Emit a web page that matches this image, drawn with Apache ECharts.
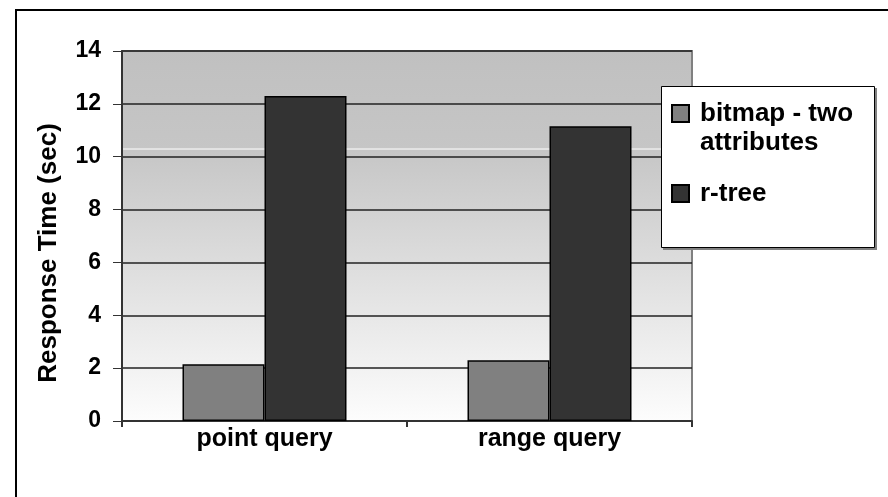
<!DOCTYPE html>
<html>
<head>
<meta charset="utf-8">
<script src="https://cdn.jsdelivr.net/npm/echarts@6/dist/echarts.min.js"></script>
<style>
  html, body { margin: 0; padding: 0; background: #fff; }
  #root { width: 888px; height: 497px; }
</style>
</head>
<body>
<div id="root"></div>
<script>
const categories = ['point query', 'range query']
const bitmapTwo = [2.15, 2.3]
const rtree = [12.3, 11.15]
const seriesNames = ['bitmap - two attributes', 'r-tree']

const font = 'Liberation Sans'

const chart = echarts.init(document.getElementById('root'))

const option = {
  animation: false,
  backgroundColor: '#fff',
  grid: {
    left: 122,
    top: 51,
    width: 570,
    height: 370,
    show: true,
    borderColor: '#808080',
    borderWidth: 2,
    backgroundColor: {
      type: 'linear', x: 0, y: 0, x2: 0, y2: 1,
      colorStops: [
        { offset: 0, color: '#c0c0c0' },
        { offset: 0.27, color: '#c6c6c6' },
        { offset: 1, color: '#fdfdfd' }
      ]
    }
  },
  xAxis: {
    type: 'category',
    data: categories,
    axisLine: { lineStyle: { color: '#333', width: 2 } },
    axisTick: { show: true, length: 6, lineStyle: { color: '#333', width: 2 } },
    axisLabel: { color: '#000', fontFamily: font, fontWeight: 'bold', fontSize: 25, margin: 6 }
  },
  yAxis: {
    type: 'value',
    min: 0,
    max: 14,
    interval: 2,
    name: 'Response Time (sec)',
    nameLocation: 'middle',
    nameGap: 60,
    // right padding pushes the rotated title down a little, as in the original
    nameTextStyle: { color: '#000', fontFamily: font, fontWeight: 'bold', fontSize: 26, padding: [0, 34, 0, 0] },
    axisLine: { show: true, lineStyle: { color: '#333', width: 2 } },
    axisTick: { show: true, length: 9, lineStyle: { color: '#333', width: 1 } },
    axisLabel: { color: '#000', fontFamily: font, fontWeight: 'bold', fontSize: 23, margin: 21 },
    splitLine: { show: true, lineStyle: { color: '#222', width: 1.5 } }
  },
  legend: {
    orient: 'vertical',
    left: 671,
    top: 70,
    padding: 0,
    itemGap: 22,
    itemWidth: 17,
    itemHeight: 17,
    icon: 'rect',
    textStyle: { color: '#000', fontFamily: font, fontWeight: 'bold', fontSize: 26, lineHeight: 29, padding: [0, 0, 0, 6] },
    // blank first line keeps the icon level with "bitmap - two"
    formatter: name => name === seriesNames[0] ? '\nbitmap - two\nattributes' : name,
    data: seriesNames,
    z: 10
  },
  graphic: [
    { type: 'rect', z: -1, shape: { x: 16, y: 10, width: 900, height: 520 }, style: { fill: null, stroke: '#000', lineWidth: 2 } },
    { type: 'line', z: 1, shape: { x1: 123, y1: 149, x2: 661, y2: 149 }, style: { stroke: '#fff', lineWidth: 1 } },
    { type: 'rect', z: 5, shape: { x: 663, y: 88, width: 214, height: 162 }, style: { fill: '#808080' } },
    { type: 'rect', z: 6, shape: { x: 661.5, y: 86.5, width: 213, height: 161 }, style: { fill: '#fff', stroke: '#000', lineWidth: 1 } }
  ],
  series: [
    {
      name: seriesNames[0],
      type: 'bar',
      data: bitmapTwo,
      barWidth: 82,
      barGap: '0%',
      itemStyle: { color: '#808080', borderColor: '#000', borderWidth: 1.5 }
    },
    {
      name: seriesNames[1],
      type: 'bar',
      data: rtree,
      barWidth: 82,
      barGap: '0%',
      itemStyle: { color: '#333333', borderColor: '#000', borderWidth: 1.5 }
    }
  ]
}

chart.setOption(option)
</script>
</body>
</html>
